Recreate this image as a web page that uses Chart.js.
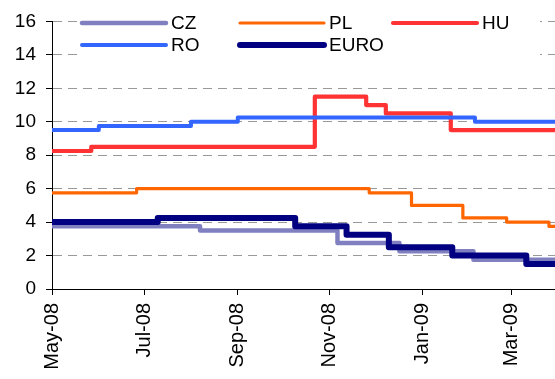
<!DOCTYPE html>
<html>
<head>
<meta charset="utf-8">
<script src="https://cdn.jsdelivr.net/npm/chart.js@4.4.1/dist/chart.umd.min.js"></script>
<style>
  html, body { margin: 0; padding: 0; background: #ffffff; overflow: hidden; }
  #wrap { width: 555px; height: 379px; position: relative; }
</style>
</head>
<body>
<div id="wrap"><canvas id="c"></canvas></div>
<script>
// Policy rates (%), each entry is the date a new rate took effect
const startDate = '2008-05-01';
const endDate = '2009-03-30';

const monthTicks = ['2008-05-01', '2008-07-01', '2008-09-01', '2008-11-01', '2009-01-01', '2009-03-01'];
const monthLabels = ['May-08', 'Jul-08', 'Sep-08', 'Nov-08', 'Jan-09', 'Mar-09'];

const czDates = ['2008-05-01', '2008-08-07', '2008-11-06', '2008-12-17', '2009-02-04'];
const czRates = [3.75, 3.5, 2.75, 2.25, 1.75];

const plDates = ['2008-05-01', '2008-06-26', '2008-11-27', '2008-12-25', '2009-01-28', '2009-02-26', '2009-03-26'];
const plRates = [5.75, 6.0, 5.75, 5.0, 4.25, 4.0, 3.75];

const huDates = ['2008-05-01', '2008-05-27', '2008-10-22', '2008-11-25', '2008-12-08', '2009-01-20'];
const huRates = [8.25, 8.5, 11.5, 11.0, 10.5, 9.5];

const roDates = ['2008-05-01', '2008-06-01', '2008-08-01', '2008-09-01', '2009-02-05'];
const roRates = [9.5, 9.75, 10.0, 10.25, 10.0];

const euroDates = ['2008-05-01', '2008-07-10', '2008-10-09', '2008-11-12', '2008-12-10', '2009-01-21', '2009-03-11'];
const euroRates = [4.0, 4.25, 3.75, 3.25, 2.5, 2.0, 1.5];

const DAY = 86400000;
const dayOf = d => (Date.parse(d) - Date.parse(startDate)) / DAY;

// Turn change dates into step points, holding the last rate to the end of the range
function steps(dates, rates) {
  const pts = dates.map((d, i) => ({ x: dayOf(d), y: rates[i] }));
  pts.push({ x: dayOf(endDate), y: rates[rates.length - 1] });
  return pts;
}

const FONT = "'Liberation Sans', Arial, Helvetica, sans-serif";

const series = [
  { label: 'CZ',   dates: czDates,   rates: czRates,   color: '#8080C0', width: 4.5, order: 4 },
  { label: 'PL',   dates: plDates,   rates: plRates,   color: '#FF6600', width: 3.2, order: 3 },
  { label: 'HU',   dates: huDates,   rates: huRates,   color: '#FF3333', width: 4.2, order: 2 },
  { label: 'RO',   dates: roDates,   rates: roRates,   color: '#3366FF', width: 4,   order: 1 },
  { label: 'EURO', dates: euroDates, rates: euroRates, color: '#000080', width: 6,   order: 0 }
];

// Two-row legend drawn inside the plot, on a white panel
const legendPanel = {
  id: 'legendPanel',
  afterDatasetsDraw(chart) {
    const ctx = chart.ctx;
    ctx.save();
    ctx.fillStyle = '#ffffff';
    ctx.fillRect(78, 4, 462, 58);
    const colX = [82, 240, 393];
    const rowY = [23, 45];
    chart.data.datasets.forEach((ds, i) => {
      const x = colX[i % 3];
      const y = rowY[Math.floor(i / 3)];
      ctx.strokeStyle = ds.borderColor;
      ctx.lineWidth = ds.borderWidth;
      ctx.lineCap = 'round';
      ctx.beginPath();
      ctx.moveTo(x, y);
      ctx.lineTo(x + 84, y);
      ctx.stroke();
      ctx.fillStyle = '#000000';
      ctx.font = '19px ' + FONT;
      ctx.textAlign = 'left';
      ctx.textBaseline = 'middle';
      ctx.fillText(ds.label, x + 89, y + 1);
    });
    ctx.restore();
  }
};

new Chart(document.getElementById('c'), {
  type: 'line',
  data: {
    datasets: series.map(s => ({
      label: s.label,
      data: steps(s.dates, s.rates),
      borderColor: s.color,
      backgroundColor: s.color,
      borderWidth: s.width,
      borderJoinStyle: 'round',
      stepped: true,
      pointRadius: 0,
      fill: false,
      order: s.order
    }))
  },
  options: {
    responsive: true,
    maintainAspectRatio: false,
    animation: false,
    layout: { padding: { top: 17, right: 0, left: 0, bottom: 0 } },
    plugins: {
      legend: { display: false },
      tooltip: { enabled: false }
    },
    scales: {
      x: {
        type: 'linear',
        min: 0,
        max: dayOf(endDate),
        afterFit: scale => { scale.height = 90; },
        afterBuildTicks: scale => {
          scale.ticks = monthTicks.map(d => ({ value: dayOf(d) }));
        },
        ticks: {
          autoSkip: false,
          minRotation: 90,
          maxRotation: 90,
          padding: 8,
          color: '#000000',
          font: { family: FONT, size: 20 },
          callback: (value, index) => monthLabels[index]
        },
        grid: {
          drawOnChartArea: false,
          drawTicks: true,
          tickLength: 6,
          tickColor: '#000000'
        },
        border: { display: true, color: '#000000', width: 1 }
      },
      y: {
        min: 0,
        max: 16,
        afterFit: scale => { scale.width = 52; },
        ticks: {
          stepSize: 2,
          padding: 10,
          color: '#000000',
          font: { family: FONT, size: 19 }
        },
        grid: {
          color: '#999999',
          lineWidth: 1,
          drawTicks: true,
          tickLength: 6,
          tickColor: '#000000'
        },
        border: { display: true, color: '#000000', width: 1, dash: [9, 6] }
      }
    }
  },
  plugins: [legendPanel]
});
</script>
</body>
</html>
